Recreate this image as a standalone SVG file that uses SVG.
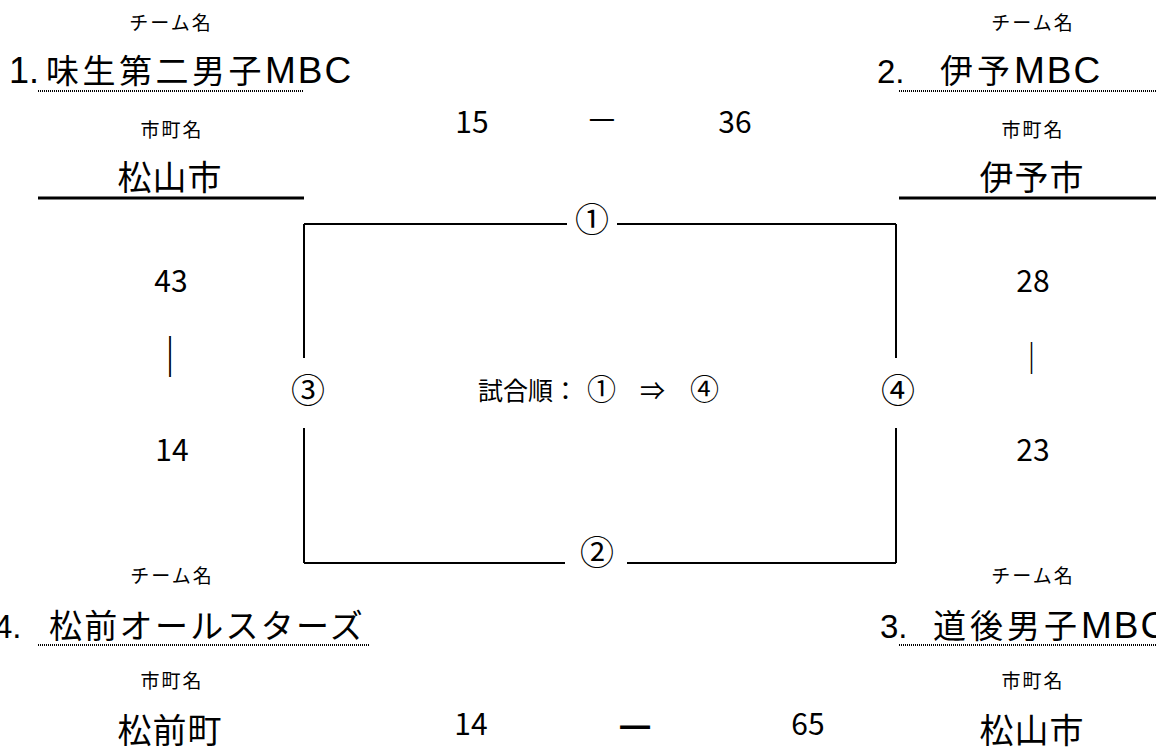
<svg xmlns="http://www.w3.org/2000/svg" width="1156" height="751" viewBox="0 0 1156 751">
<style>
text{font-family:"Noto Sans CJK JP","Liberation Sans",sans-serif;fill:#000}
.lbl{font-size:19px;text-anchor:middle;letter-spacing:2px}
.team{font-size:33px}
.lat{font-family:"Liberation Sans","Noto Sans CJK JP",sans-serif}
.mbc{font-family:"Liberation Sans","Noto Sans CJK JP",sans-serif;font-size:37px;letter-spacing:2px}
.city{font-size:34px;text-anchor:middle;letter-spacing:1px}
.num{font-size:30px;text-anchor:middle}
.circ{font-size:34px;text-anchor:middle}
.dot{stroke:#000;stroke-width:2;stroke-dasharray:1 1;fill:none}
.sol{stroke:#000;stroke-width:3;fill:none}
.frame{stroke:#000;stroke-width:2;fill:none}
</style>
<rect width="1156" height="751" fill="#fff"/>

<g id="team1">
<text class="lbl" x="171" y="30">チーム名</text>
<text class="team" y="83"><tspan class="lat" x="9" style="font-size:36px">1.</tspan><tspan x="46" letter-spacing="3.5">味生第二男子</tspan><tspan class="mbc">MBC</tspan></text>
<line class="dot" x1="38" y1="91" x2="304" y2="91"/>
<text class="lbl" x="172" y="137">市町名</text>
<text class="city" x="170" y="190">松山市</text>
<line class="sol" x1="38" y1="198" x2="304" y2="198"/>
</g>

<g id="team2">
<text class="lbl" x="1033" y="30">チーム名</text>
<text class="team" y="83"><tspan class="lat" x="877">2.</tspan><tspan x="940" letter-spacing="4">伊予</tspan><tspan class="mbc">MBC</tspan></text>
<line class="dot" x1="899" y1="91" x2="1156" y2="91"/>
<text class="lbl" x="1033" y="137">市町名</text>
<text class="city" x="1032" y="190">伊予市</text>
<line class="sol" x1="899" y1="198" x2="1156" y2="198"/>
</g>

<g id="team4">
<text class="lbl" x="172" y="583">チーム名</text>
<text class="team" y="638"><tspan class="lat" x="-6">4.</tspan><tspan x="49" letter-spacing="2.3">松前オールスターズ</tspan></text>
<line class="dot" x1="38" y1="645" x2="370" y2="645"/>
<text class="lbl" x="172" y="688">市町名</text>
<text class="city" x="170" y="743">松前町</text>
</g>

<g id="team3">
<text class="lbl" x="1033" y="583">チーム名</text>
<text class="team" y="638"><tspan class="lat" x="880">3.</tspan><tspan x="933" letter-spacing="4">道後男子</tspan><tspan class="mbc">MBC</tspan></text>
<line class="dot" x1="899" y1="645" x2="1156" y2="645"/>
<text class="lbl" x="1033" y="688">市町名</text>
<text class="city" x="1032" y="743">松山市</text>
</g>

<g id="scores">
<text class="num" x="472" y="133">15</text>
<text class="num" x="602" y="128">—</text>
<text class="num" x="735" y="133">36</text>
<text class="num" x="171" y="292">43</text>
<text class="num" x="170" y="372" style="font-size:41px">｜</text>
<text class="num" x="172" y="461">14</text>
<text class="num" x="1033" y="292">28</text>
<text class="num" x="1031.5" y="370" style="font-size:32px">｜</text>
<text class="num" x="1033" y="461">23</text>
<text class="num" x="471" y="735">14</text>
<text class="num" x="635" y="738" style="font-size:37px;font-weight:bold">—</text>
<text class="num" x="808" y="735">65</text>
</g>

<g id="connectors">
<path class="frame" d="M304,224 H567 M617,224 H896 M304,224 V358 M304,428 V563 M896,224 V358 M896,428 V563 M304,563 H565 M627,563 H896"/>
</g>

<g id="match1"><text class="circ" x="592" y="232">①</text></g>
<g id="match2"><text class="circ" x="597" y="565">②</text></g>
<g id="match3"><text class="circ" x="308" y="403">③</text></g>
<g id="match4"><text class="circ" x="898" y="403">④</text></g>

<g id="order">
<text style="font-size:25px" y="400"><tspan x="478">試合順：</tspan><tspan x="587" style="font-size:29px">①</tspan><tspan x="640">⇒</tspan><tspan x="690" style="font-size:29px">④</tspan></text>
</g>
</svg>
